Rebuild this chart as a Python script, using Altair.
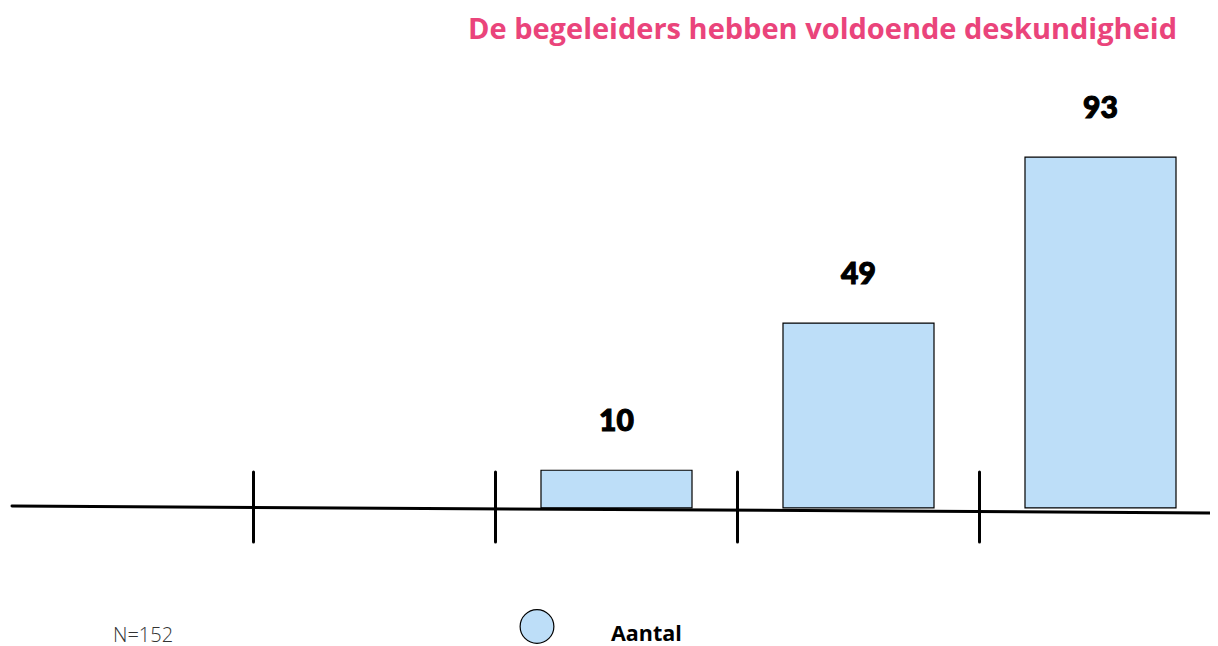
import altair as alt
import pandas as pd

categories = ["Helemaal oneens", "Oneens", "Neutraal", "Eens", "Helemaal eens"]
aantal = [0, 0, 10, 49, 93]
title_text = "De begeleiders hebben voldoende deskundigheid"
n_text = "N=152"
legend_label = "Aantal"

df = pd.DataFrame({"cat": categories, "Aantal": aantal})
bars_df = df[df["Aantal"] > 0]
bounds_df = pd.DataFrame({"cat": categories[1:]})

W, H = 1198, 630
BLUE = "#BDDEF8"
PINK = "#EA447B"

xs = alt.Scale(domain=categories, paddingInner=0, paddingOuter=0, range=[-0.5, 1209.5])
ys = alt.Scale(domain=[-35, 132], nice=False, zero=False)

bars = alt.Chart(bars_df).mark_bar(
    width={"band": 0.624}, fill=BLUE, stroke="black", strokeWidth=1.2
).encode(
    x=alt.X("cat:N", scale=xs, axis=None, sort=categories),
    y=alt.Y("Aantal:Q", scale=ys, axis=None),
    y2=alt.datum(0),
)

labels = alt.Chart(bars_df).mark_text(
    font="Lato", fontWeight=900, fontSize=30, color="black", stroke="black", strokeWidth=1.1,
    baseline="alphabetic", dy=-39
).encode(
    x=alt.X("cat:N", scale=xs, axis=None, sort=categories),
    y=alt.Y("Aantal:Q", scale=ys, axis=None),
    text="Aantal:Q",
)

# slightly tilted baseline, as in the reference
baseline = alt.Chart(pd.DataFrame({"a": [0]})).mark_rule(
    color="black", strokeWidth=3, strokeCap="round"
).encode(x=alt.value(0), x2=alt.value(1206), y=alt.value(496), y2=alt.value(503))

ticks = alt.Chart(bounds_df).mark_rule(color="black", strokeWidth=3, strokeCap="round").encode(
    x=alt.X("cat:N", scale=xs, axis=None, sort=categories),
    xOffset=alt.value(0),
    y=alt.value(462),
    y2=alt.value(532),
)

title = alt.Chart(pd.DataFrame({"t": [title_text]})).mark_text(
    font="Open Sans", fontWeight="bold", fontSize=29, color=PINK, align="right", baseline="alphabetic"
).encode(x=alt.value(1165), y=alt.value(28.5), text="t:N")

ntext = alt.Chart(pd.DataFrame({"t": [n_text]})).mark_text(
    font="Open Sans", fontWeight=300, fontSize=20, color="#333333", align="left", baseline="middle"
).encode(x=alt.value(101), y=alt.value(625.5), text="t:N")

leg_dot = alt.Chart(pd.DataFrame({"t": [legend_label]})).mark_point(
    shape="circle", filled=True, fill=BLUE, stroke="black", strokeWidth=1.2, size=1140, opacity=1
).encode(x=alt.value(525), y=alt.value(616.5))

leg_text = alt.Chart(pd.DataFrame({"t": [legend_label]})).mark_text(
    font="Open Sans", fontWeight="bold", fontSize=21.5, color="black", align="left", baseline="middle"
).encode(x=alt.value(599), y=alt.value(625), text="t:N")

chart = alt.layer(bars, baseline, ticks, labels, title, ntext, leg_dot, leg_text).properties(
    width=W, height=H, padding={"left": 4, "top": 2, "right": 0, "bottom": 6}, autosize="none"
).configure_view(stroke=None)

chart.save("out.html", embed_options={"renderer": "svg", "actions": False})
